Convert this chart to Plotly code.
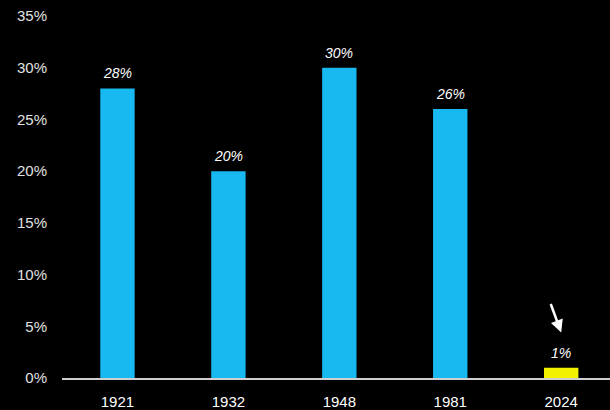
import plotly.graph_objects as go

years = ["1921", "1932", "1948", "1981", "2024"]
values = [28, 20, 30, 26, 1]
labels = ["28%", "20%", "30%", "26%", "1%"]
colors = ["#18B8F0", "#18B8F0", "#18B8F0", "#18B8F0", "#F2F200"]
y_ticks = [0, 5, 10, 15, 20, 25, 30, 35]
y_tick_text = ["0%", "5%", "10%", "15%", "20%", "25%", "30%", "35%"]

fig = go.Figure()
fig.add_trace(go.Bar(
    x=years, y=values, marker_color=colors, marker_line_width=0,
    width=0.31, cliponaxis=False,
))

for i, (v, lab) in enumerate(zip(values, labels)):
    fig.add_annotation(
        x=i, y=v, xref="x", yref="y", text=lab, showarrow=False,
        yanchor="middle", yshift=15,
        font=dict(color="white", size=14, family="Liberation Sans", style="italic"),
    )

fig.add_annotation(
    x=4, y=4.4, xref="x", yref="y", ax=-11, ay=-30,
    showarrow=True, arrowhead=2, arrowsize=1, arrowwidth=2.5, arrowcolor="white", text="",
)

fig.update_layout(
    width=610, height=410,
    margin=dict(l=62, r=0, t=16, b=32),
    paper_bgcolor="black", plot_bgcolor="black",
    font=dict(family="Liberation Sans", color="white", size=15),
    showlegend=False,
)
fig.update_xaxes(
    type="category", range=[-0.5, 4.44], showgrid=False, zeroline=False,
    showline=True, linecolor="#cfcfcf", linewidth=2,
    ticks="", ticklabelstandoff=9,
    tickfont=dict(color="white", size=15),
)
fig.update_yaxes(
    range=[0, 35], tickvals=y_ticks, ticktext=y_tick_text,
    showgrid=False, zeroline=False, showline=False,
    ticks="", ticklabelstandoff=14,
    tickfont=dict(color="#e0e0e0", size=15),
)

fig.write_html(
    "out.html",
    config={"displayModeBar": False},
    post_script="document.body.style.margin='0';document.body.style.background='black';document.body.style.overflow='hidden';",
)
